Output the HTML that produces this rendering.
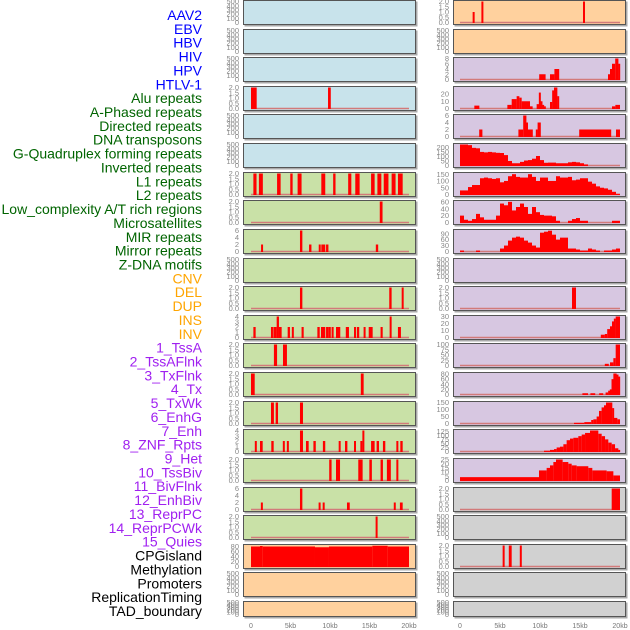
<!DOCTYPE html>
<html><head><meta charset="utf-8">
<style>
body{margin:0;background:#fff;width:630px;height:630px;overflow:hidden}
svg{display:block}
.lab{font-family:"Liberation Sans",sans-serif;font-size:14px}
.tk{font-family:"Liberation Sans",sans-serif;font-size:7.5px;fill:#888}
.xt{font-family:"Liberation Sans",sans-serif;font-size:7px;fill:#777}
</style></head>
<body>
<svg id="chart" width="630" height="630" viewBox="0 0 630 630" xmlns="http://www.w3.org/2000/svg">
<g id="labels"></g>
<g id="panels"></g>
<g id="xaxis"></g>
</svg>
<script>
// ---------- data ----------
const trackLabels = ["AAV2","EBV","HBV","HIV","HPV","HTLV-1","Alu repeats","A-Phased repeats","Directed repeats","DNA transposons","G-Quadruplex forming repeats","Inverted repeats","L1 repeats","L2 repeats","Low_complexity A/T rich regions","Microsatellites","MIR repeats","Mirror repeats","Z-DNA motifs","CNV","DEL","DUP","INS","INV","1_TssA","2_TssAFlnk","3_TxFlnk","4_Tx","5_TxWk","6_EnhG","7_Enh","8_ZNF_Rpts","9_Het","10_TssBiv","11_BivFlnk","12_EnhBiv","13_ReprPC","14_ReprPCWk","15_Quies","CPGisland","Methylation","Promoters","ReplicationTiming","TAD_boundary"];
const labelGroups = [6,13,5,15,5];
const groupColors = ["#0000ff","#006400","#ffa500","#a020f0","#000000"];
const xTickKb = [0,5,10,15,20];
const xTickLabels = ["0","5kb","10kb","15kb","20kb"];
const panelTops = [0,29,57,86,114,143,172,200,229,258,286,315,343,372,401,429,458,487,515,544,572,601];
const leftBg = ["b","b","b","b","b","b","g","g","g","g","g","g","g","g","g","g","g","g","g","o","o","o"];
const rightBg = ["o","o","p","p","p","p","p","p","p","p","p","p","p","p","p","p","p","y","y","y","y","y"];
const leftYMax = [500,500,500,2,500,500,2,2,6,500,2,4,2,2,2,4,2,6,2,84,500,500];
const rightYMax = [2,500,8,29,6,232,155,61,106,500,2,30,100,82,150,130,25,2,500,2,500,500];
const leftTicks = [[0,100,200,300,400,500],[0,100,200,300,400,500],[0,100,200,300,400,500],[0,0.5,1,1.5,2],[0,100,200,300,400,500],[0,100,200,300,400,500],[0,0.5,1,1.5,2],[0,0.5,1,1.5,2],[0,2,4,6],[0,100,200,300,400,500],[0,0.5,1,1.5,2],[0,1,2,3,4],[0,0.5,1,1.5,2],[0,0.5,1,1.5,2],[0,0.5,1,1.5,2],[0,1,2,3,4],[0,0.5,1,1.5,2],[0,2,4,6],[0,0.5,1,1.5,2],[0,20,40,60,80],[0,100,200,300,400,500],[0,100,200,300,400,500]];
const rightTicks = [[0,0.5,1,1.5,2],[0,100,200,300,400,500],[0,2,4,6,8],[0,10,20],[0,2,4,6],[0,50,100,150,200],[0,50,100,150],[0,20,40,60],[0,30,60,90],[0,100,200,300,400,500],[0,0.5,1,1.5,2],[0,10,20,30],[0,25,50,75,100],[0,20,40,60,80],[0,50,100,150],[0,25,50,75,100,125],[0,5,10,15,20,25],[0,0.5,1,1.5,2],[0,100,200,300,400,500],[0,0.5,1,1.5,2],[0,100,200,300,400,500],[0,100,200,300,400,500]];
// left panel segments [startKb,endKb,value]
const L04 = [[0,0.72,2],[9.75,10.1,2]];
const L07 = [[0.3,0.7,2],[1.0,1.5,2],[3.3,3.75,2],[4.97,5.27,2],[5.9,6.4,2],[8.9,9.4,2],[10.4,10.7,2],[12.3,12.7,2],[13.2,13.75,2],[15.2,15.65,2],[16,16.5,2],[16.8,17.4,2],[17.8,18.3,2],[18.6,19.2,2]];
const L08 = [[16.3,16.65,2]];
const L09 = [[1.3,1.5,2],[6.2,6.5,6],[7.35,7.65,2],[8.6,8.8,2],[8.9,9.4,2],[9.5,9.8,2],[15.8,16.1,2]];
const L11 = [[6.2,6.5,2],[17.5,17.8,2],[19.1,19.3,2]];
const L12 = [[0.3,0.59,2],[2.53,2.78,2],[2.83,3.25,2],[3.25,3.54,4],[3.54,3.88,2],[4.64,4.93,2],[5.19,5.4,2],[6.4,6.67,2],[8.4,8.7,2],[8.86,9.4,2],[9.5,9.79,2],[9.8,10.1,2],[10.2,10.46,2],[10.76,11.3,2],[12,12.4,2],[13.04,13.29,2],[13.4,13.7,2],[14.26,14.5,2],[14.9,15.4,2],[16.4,16.67,2],[17.55,17.8,4],[18.6,18.98,2]];
const L13 = [[2.9,3.3,2],[4.05,4.55,2]];
const L14 = [[0,0.47,2],[13.9,14.26,2]];
const L15 = [[2.53,2.9,2],[3.12,3.42,2],[6.2,6.58,2]];
const L16 = [[0.5,0.72,2],[1.14,1.48,2],[2.57,2.87,2],[4.05,4.26,2],[4.56,4.77,2],[6.2,6.58,4],[6.96,7.3,2],[7.9,8.2,2],[9.1,9.4,2],[11.1,11.35,2],[11.9,12.2,2],[13.04,13.29,2],[13.84,14.1,2],[14.1,14.35,4],[15.2,15.65,2],[15.9,16.2,2],[16.7,17,2],[18.4,18.65,2],[18.9,19.2,2]];
const L17 = [[9.9,10.2,2],[10.76,11.27,2],[13.58,14.13,2],[14.98,15.3,2],[16.4,16.7,2],[17.2,17.7,2],[18.4,18.65,2]];
const L18 = [[1.27,1.48,2],[6.2,6.5,6],[8.57,8.8,2],[9.1,9.3,2],[12.15,12.5,2],[18.1,18.3,2],[18.85,19.2,2]];
const L19 = [[15.8,16,2]];
const L20 = [[0,1.14,80],[1.14,1.48,82],[1.48,8.1,80],[8.1,9.87,77],[9.87,15.36,80],[15.36,17.3,83],[17.3,20,80]];
// right panel segments
const R01 = [[1.58,1.83,1],[2.7,2.9,2],[15.4,15.6,2]];
const R03 = [[9.9,10.7,2],[11.25,11.8,2],[11.8,12.4,4],[18.5,18.75,2],[18.75,19,4],[19,19.4,6],[19.4,19.8,8],[19.8,20,6]];
const R04 = [[1.79,2.42,4],[5.92,6.46,5],[6.46,7.08,13],[7.08,7.42,17],[7.42,7.71,15],[7.71,8.75,10],[8.75,9.08,3],[9.58,9.88,6],[9.88,10.08,22],[10.08,10.29,10],[10.29,10.5,5],[10.5,10.71,3],[11.25,11.54,9],[11.54,11.75,25],[11.75,12.17,29],[12.17,12.38,17],[19,19.42,3],[19.42,20,5]];
const R05 = [[2.4,2.8,2],[7.3,7.9,2],[7.9,8.3,6],[8.3,8.45,4],[8.45,9.1,2],[9.5,9.7,2],[9.7,10.1,4],[14.9,18.9,2],[19.5,20,2]];
// 0.5 kb bins (40 bins, 0-20 kb)
const R06bins = [232,232,225,195,190,150,145,150,145,140,138,115,50,25,25,40,55,60,75,105,60,30,32,32,25,25,25,35,40,35,25,12,0,0,0,0,0,0,0,0];
const R07bins = [30,30,55,70,70,120,125,120,115,120,90,100,135,150,130,125,125,150,130,100,125,125,100,100,135,125,125,130,105,110,120,120,95,80,60,50,45,35,20,5];
const R08bins = [20,8,5,10,25,15,8,8,8,20,55,50,60,35,45,55,45,25,45,30,22,20,20,18,5,0,0,5,10,13,5,5,0,0,0,0,0,0,5,5];
const R09bins = [5,0,0,0,5,0,0,0,0,0,15,30,55,70,75,70,55,45,30,20,95,100,105,85,60,70,70,15,15,10,5,5,15,10,5,0,5,5,10,15];
const R11 = [[14.0,14.5,2]];
const R12 = [[17.6,18.1,4],[18.1,18.4,5],[18.4,18.75,12],[18.75,19,16],[19,19.25,23],[19.25,19.46,27],[19.46,20,30]];
const R13 = [[18.1,18.6,8],[18.75,19.17,15],[19.17,19.46,35],[19.46,20,100]];
const R14 = [[15.3,16,5],[16.3,16.9,5],[17.4,17.9,5],[18.2,18.54,8],[18.54,18.75,15],[18.75,18.96,20],[18.96,19.17,60],[19.17,19.58,82],[19.58,19.79,78],[19.79,20,70]];
const R15 = [[14.25,15.54,5],[15.54,16.4,10],[16.4,16.67,25],[16.67,17.08,30],[17.08,17.375,50],[17.375,17.7,90],[17.7,18,115],[18,18.25,130],[18.25,19.04,150],[19.04,19.25,110],[19.25,19.67,40],[19.67,20,30]];
const R16 = [[10.5,11.25,5],[11.25,11.75,10],[11.75,12.08,15],[12.08,12.5,25],[12.5,12.92,30],[12.92,13.33,45],[13.33,13.75,70],[13.75,14.17,80],[14.17,14.79,85],[14.79,15.21,95],[15.21,15.63,105],[15.63,16.25,115],[16.25,17.29,130],[17.29,17.71,110],[17.71,18.13,95],[18.13,18.54,75],[18.54,18.96,55],[18.96,19.38,45],[19.38,19.79,20],[19.79,20,10]];
const R17 = [[0,9.875,4],[9.875,10.83,12],[10.83,11.25,15],[11.25,11.67,18],[11.67,12,22],[12,12.83,25],[12.83,13.54,22],[13.54,13.96,20],[13.96,14.58,18],[14.58,16.04,17],[16.04,16.54,15],[16.54,18.33,12],[18.33,19.17,11],[19.17,20,6]];
const R18 = [[18.96,20,2]];
const R20 = [[5.33,5.58,2],[6.1,6.46,2],[7.5,7.7,2]];

// ---------- drawing ----------
const NS = "http://www.w3.org/2000/svg";
function mk(tag, attrs, parent){const e=document.createElementNS(NS,tag);for(const k in attrs)e.setAttribute(k,attrs[k]);parent.appendChild(e);return e;}
function binsToSegs(b){return b.map((v,i)=>[i*0.5,i*0.5+0.5,v]).filter(s=>s[2]>0);}
const leftSegs = [null,null,null,L04,null,null,L07,L08,L09,null,L11,L12,L13,L14,L15,L16,L17,L18,L19,L20,null,null];
const rightSegs = [R01,null,R03,R04,R05,binsToSegs(R06bins),binsToSegs(R07bins),binsToSegs(R08bins),binsToSegs(R09bins),null,R11,R12,R13,R14,R15,R16,R17,R18,null,R20,null,null];
const bgColors = {b:"#c8e3eb",g:"#c9e1a7",o:"#ffd19e",p:"#d7c7e1",y:"#d1d1d1"};
const xL = kb => 251 + kb*7.9;
const xR = kb => 460 + kb*8.0;

const labG = document.getElementById('labels');
let li = 0;
labelGroups.forEach((n,gi)=>{
  for(let k=0;k<n;k++){
    const t = mk('text',{x:202,y:20+li*13.86,'text-anchor':'end',class:'lab',fill:groupColors[gi]},labG);
    t.textContent = trackLabels[li];
    
    
    li++;
  }
});

const pg = document.getElementById('panels');
function drawPanel(side, i){
  const top = panelTops[i];
  const h = (i===panelTops.length-1) ? 16 : 25;
  const px = side==='L' ? 243 : 453;
  const xs = side==='L' ? xL : xR;
  const ymax = side==='L' ? leftYMax[i] : rightYMax[i];
  const ticks = side==='L' ? leftTicks[i] : rightTicks[i];
  const segs = side==='L' ? leftSegs[i] : rightSegs[i];
  const bg = side==='L' ? leftBg[i] : rightBg[i];
  const g = mk('g',{},pg);
  
  
  mk('rect',{x:px+1.5,y:top+1.5,width:173,height:h,fill:'#aaa'},g);
  mk('rect',{x:px+0.5,y:top+0.5,width:172,height:h-1,fill:bgColors[bg],stroke:'#555','stroke-width':1},g);
  const y0 = top + h - 2.5, yt = top + 1.5;
  const ys = v => y0 - v/ymax*(y0-yt);
  ticks.forEach(v=>{
    const t = mk('text',{x:px-4,y:ys(v)+2.6,'text-anchor':'end',class:'tk'},g);
    t.textContent = (ymax===2) ? v.toFixed(1) : String(v);
    
    
  });
  if(segs){
    mk('line',{x1:xs(0),x2:xs(20),y1:y0,y2:y0,stroke:'#d27a7a','stroke-width':1.5},g);
    segs.forEach(s=>{
      let x0 = xs(s[0]), x1 = xs(s[1]);
      if(x1-x0<2){const c=(x0+x1)/2;x0=c-1;x1=c+1;}
      const r = mk('rect',{x:x0,y:ys(s[2]),width:x1-x0,height:y0-ys(s[2])+0.5,fill:'#ff0000'},g);
      
      
    });
  }
}
for(let i=0;i<panelTops.length;i++){drawPanel('L',i);drawPanel('R',i);}

const xg = document.getElementById('xaxis');
[xL,xR].forEach(xs=>{
  xTickKb.forEach((kb,j)=>{
    const t = mk('text',{x:xs(kb),y:628,'text-anchor':'middle',class:'xt'},xg);
    t.textContent = xTickLabels[j];
    
    
  });
});
</script>
</body></html>
